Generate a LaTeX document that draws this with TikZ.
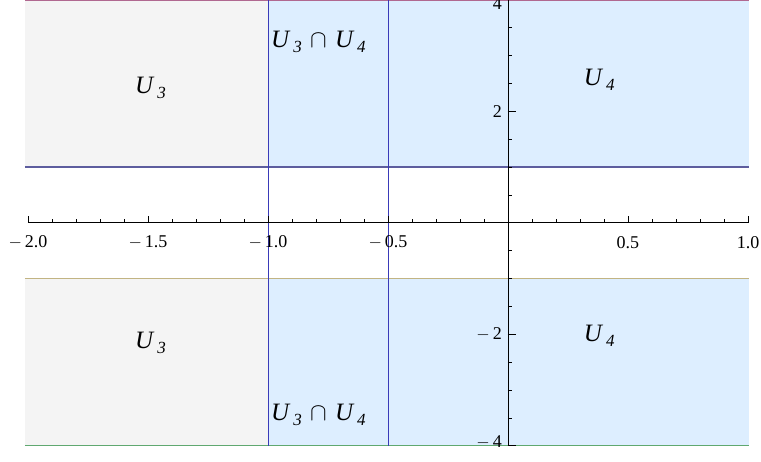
\documentclass[tikz,border=0pt]{standalone}
\usepackage{fontspec}
\setmainfont{Liberation Serif}
\newcommand{\sbx}[1]{\,\raisebox{-5pt}{\fontsize{17}{19}\selectfont #1}}
\newcommand{\mns}{\(-\)\,}
\begin{document}
\begin{tikzpicture}[x=240pt,y=55.75pt,
  lbl/.style={font=\fontsize{25}{27}\selectfont\itshape, inner sep=0pt},
  tk/.style={font=\fontsize{18}{20}\selectfont, inner sep=0pt},
  axisline/.style={line width=0.8pt, black},
  vline/.style={line width=0.8pt, color=vblue}]
\definecolor{gfill}{HTML}{F4F4F4}
\definecolor{bfill}{HTML}{DDEEFF}
\definecolor{ltop}{HTML}{B06890}
\definecolor{lone}{HTML}{5D5D9E}
\definecolor{lmone}{HTML}{C2B483}
\definecolor{lbot}{HTML}{5FA870}
\definecolor{vblue}{HTML}{3A3AB8}
\useasboundingbox (-2.11667,-4.2744) rectangle (1.05417,3.99462);
% regions
\fill[gfill] (-2.0125,1) rectangle (-1,4);
\fill[gfill] (-2.0125,-4) rectangle (-1,-1);
\fill[bfill] (-1,1) rectangle (1.004,4);
\fill[bfill] (-1,-4) rectangle (1.004,-1);
% horizontal lines
\draw[line width=1.6pt, ltop] (-2.0125,3.995) -- (1.004,3.995);
\draw[line width=1.1pt, lone] (-2.0125,1) -- (1.004,1);
\draw[line width=1.1pt, lmone] (-2.0125,-1) -- (1.004,-1);
\draw[line width=1.3pt, lbot] (-2.0125,-4) -- (1.004,-4);
% vertical lines
\draw[vline] (-1,-4) -- (-1,4);
\draw[vline] (-0.5,-4) -- (-0.5,4);
% axes
\draw[axisline] (-2,0) -- (1,0);
\draw[axisline] (0,-4) -- (0,4);
\foreach \i in {-20,...,10} {
  \draw[line width=0.6pt] (\i/10,0) -- ++(0,4pt);
}
\foreach \i in {-20,-15,-10,-5,0,5,10} {
  \draw[line width=0.6pt] (\i/100*10,0) -- ++(0,7pt);
}
\foreach \j in {-8,...,8} {
  \draw[line width=0.6pt] (0,\j/2) -- ++(4.5pt,0);
}
\foreach \j in {-4,-2,2,4} {
  \draw[line width=0.6pt] (0,\j) -- ++(8pt,0);
}
% tick labels
\node[tk] (xa) at (-2,-0.35) {\mns 2.0};
\node[tk] (xb) at (-1.5,-0.35) {\mns 1.5};
\node[tk] (xc) at (-1,-0.35) {\mns 1.0};
\node[tk] (xd) at (-0.5,-0.35) {\mns 0.5};
\node[tk] (xe) at (0.5,-0.35) {0.5};
\node[tk] (xf) at (1,-0.35) {1.0};
\node[tk, anchor=east] (ya) at (-0.025,2) {2};
\node[tk, anchor=east] (yb) at (-0.025,-2) {\mns 2};
\node[tk, anchor=east] (yc) at (-0.025,3.93) {4};
\node[tk, anchor=east] (yd) at (-0.025,-3.93) {\mns 4};
% region labels
\node[lbl] (u3a) at (-1.49,2.42) {U\sbx{3}};
\node[lbl] (u34a) at (-0.79,3.24) {U\sbx{3}\,\,\upshape$\cap$\,\,\itshape U\sbx{4}};
\node[lbl] (u4a) at (0.38,2.56) {U\sbx{4}};
\node[lbl] (u3b) at (-1.49,-2.16) {U\sbx{3}};
\node[lbl] (u34b) at (-0.79,-3.45) {U\sbx{3}\,\,\upshape$\cap$\,\,\itshape U\sbx{4}};
\node[lbl] (u4b) at (0.38,-2.03) {U\sbx{4}};
\end{tikzpicture}
\end{document}
